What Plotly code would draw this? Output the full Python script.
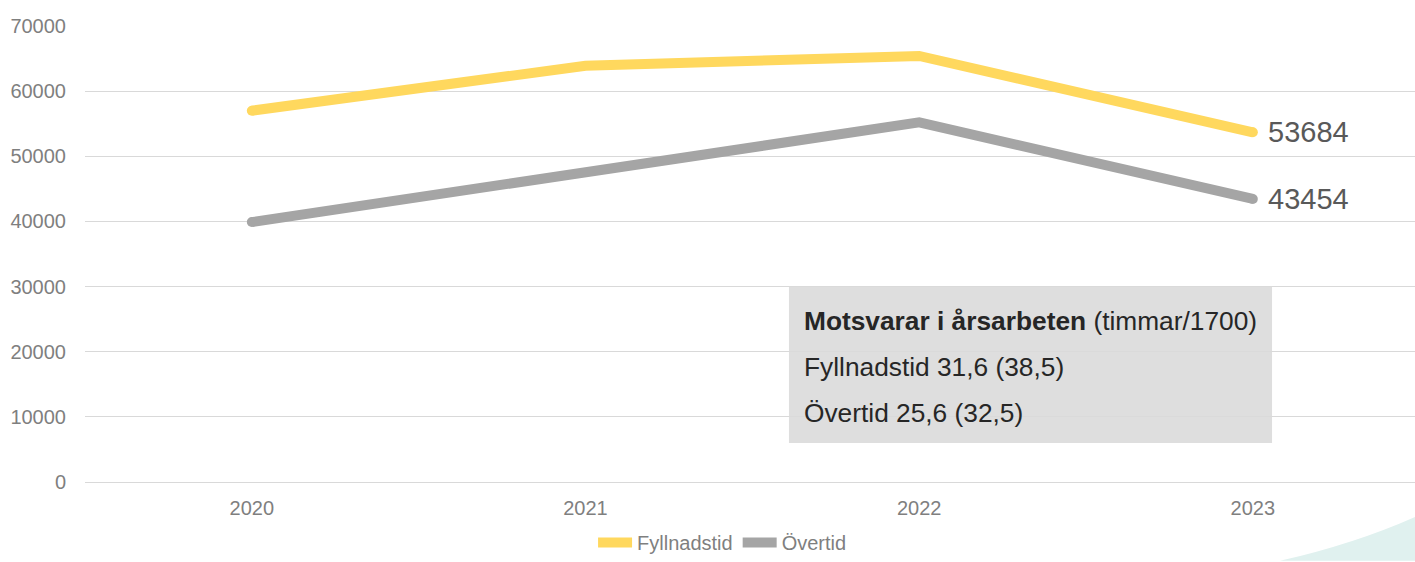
import plotly.graph_objects as go

years = ["2020", "2021", "2022", "2023"]
fyllnadstid = [57000, 63900, 65400, 53684]
overtid = [39900, 47500, 55200, 43454]
y_ticks = [0, 10000, 20000, 30000, 40000, 50000, 60000, 70000]

box_lines = [
    "<b>Motsvarar i årsarbeten</b> (timmar/1700)",
    "Fyllnadstid 31,6 (38,5)",
    "Övertid 25,6 (32,5)",
]

YELLOW = "#FFD85E"
GRAY = "#A5A5A5"
FONT = "Liberation Sans, Arial, sans-serif"

fig = go.Figure()
for name, vals, col in [("Fyllnadstid", fyllnadstid, YELLOW), ("Övertid", overtid, GRAY)]:
    fig.add_trace(go.Scatter(x=years, y=vals, mode="lines", name=name,
                             line=dict(color=col, width=10)))
    # round caps at line ends
    fig.add_trace(go.Scatter(x=[years[0], years[-1]], y=[vals[0], vals[-1]], mode="markers",
                             marker=dict(color=col, size=10), showlegend=False, hoverinfo="skip"))

# end labels
last_idx = len(years) - 1
for vals in (fyllnadstid, overtid):
    fig.add_annotation(x=last_idx, y=vals[-1], text=str(vals[-1]), showarrow=False,
                       xanchor="left", yanchor="middle", xshift=13,
                       font=dict(size=29, color="#595959", family=FONT))

# info box
fig.add_shape(type="rect", xref="paper", yref="paper", x0=0.5293, x1=0.8925, y0=0.0853, y1=0.4289,
              fillcolor="rgba(217,217,217,0.88)", line=dict(width=0), layer="above")
for txt, yy in zip(box_lines, [0.3523, 0.2516, 0.1510]):
    fig.add_annotation(xref="paper", yref="paper", x=0.5391, y=yy, text=txt, showarrow=False,
                       xanchor="left", yanchor="middle",
                       font=dict(size=26.3, color="#262626", family=FONT))

# decorative corner curve
fig.add_shape(type="path", xref="paper", yref="paper",
              path="M 0.8985,-0.1729 Q 0.955,-0.135 1.0,-0.0766 L 1.0,-0.1729 Z",
              fillcolor="#E0F1EF", line=dict(width=0), layer="below")

fig.update_layout(
    width=1415, height=562,
    margin=dict(l=85, r=0, t=26, b=79),
    paper_bgcolor="white", plot_bgcolor="white",
    font=dict(family=FONT, size=20, color="#7F7F7F"),
    showlegend=True,
    legend=dict(orientation="h", x=0.382, xanchor="left", y=-0.133, yanchor="middle",
                font=dict(size=20, color="#7F7F7F"), itemwidth=34, tracegroupgap=0),
    xaxis=dict(type="category", range=[-0.5, 3.486], showgrid=False, showline=False,
               ticks="", tickfont=dict(size=20, color="#7F7F7F"), ticklabelstandoff=12),
    yaxis=dict(range=[0, 70000], tickvals=y_ticks, tickformat="d", showgrid=True,
               gridcolor="#D9D9D9", gridwidth=1, zeroline=True, zerolinecolor="#D9D9D9",
               zerolinewidth=1, showline=False, ticks="", tickfont=dict(size=20, color="#7F7F7F"),
               ticklabelstandoff=18),
)

fig.write_html("out.html", config={"displayModeBar": False},
               post_script="document.body.style.margin='0';document.body.style.overflow='hidden';")
